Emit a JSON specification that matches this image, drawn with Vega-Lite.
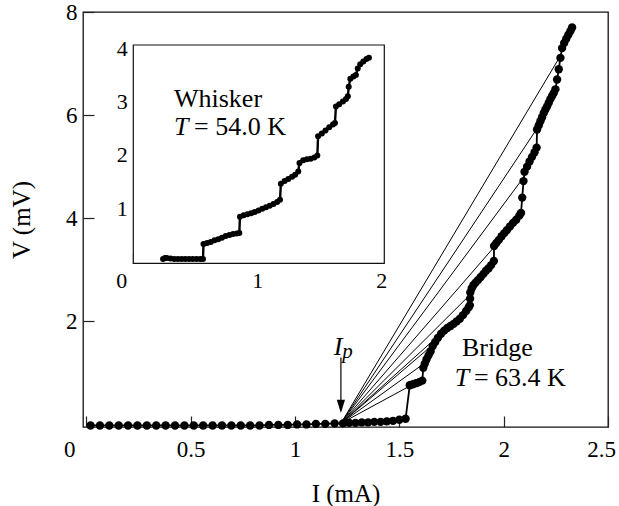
{
  "$schema": "https://vega.github.io/schema/vega-lite/v6.json",
  "width": 525,
  "height": 415,
  "autosize": {"type": "none"},
  "padding": {"left": 83, "top": 12, "right": 11, "bottom": 79},
  "background": "white",
  "config": {
    "font": "Liberation Serif",
    "view": {"stroke": "#111", "strokeWidth": 1.3},
    "axis": {
      "labelFont": "Liberation Serif",
      "titleFont": "Liberation Serif",
      "labelColor": "#000",
      "titleColor": "#000",
      "tickColor": "#222",
      "tickWidth": 1.2,
      "grid": false,
      "domain": false,
      "titleFontWeight": "normal",
      "labelOverlap": false,
      "labelFlush": false,
      "labelBound": false
    }
  },
  "datasets": {
    "bridge": [
      {"I": 0.02, "V": -0.02}, {"I": 0.065, "V": -0.02}, {"I": 0.11, "V": -0.02}, {"I": 0.155, "V": -0.02},
      {"I": 0.2, "V": -0.02}, {"I": 0.245, "V": -0.02}, {"I": 0.29, "V": -0.02}, {"I": 0.335, "V": -0.02},
      {"I": 0.38, "V": -0.02}, {"I": 0.425, "V": -0.02}, {"I": 0.47, "V": -0.02}, {"I": 0.515, "V": -0.02},
      {"I": 0.56, "V": -0.02}, {"I": 0.605, "V": -0.02}, {"I": 0.65, "V": -0.02}, {"I": 0.695, "V": -0.02},
      {"I": 0.74, "V": -0.02}, {"I": 0.785, "V": -0.02}, {"I": 0.83, "V": -0.02}, {"I": 0.875, "V": -0.01},
      {"I": 0.92, "V": -0.01}, {"I": 0.965, "V": -0.01}, {"I": 1.01, "V": 0.0}, {"I": 1.055, "V": 0.0},
      {"I": 1.1, "V": 0.01}, {"I": 1.145, "V": 0.01}, {"I": 1.19, "V": 0.02},
      {"I": 1.23, "V": 0.02}, {"I": 1.26, "V": 0.03}, {"I": 1.29, "V": 0.03}, {"I": 1.32, "V": 0.04},
      {"I": 1.35, "V": 0.04}, {"I": 1.38, "V": 0.05}, {"I": 1.41, "V": 0.05}, {"I": 1.44, "V": 0.06},
      {"I": 1.47, "V": 0.07}, {"I": 1.5, "V": 0.09}, {"I": 1.53, "V": 0.11},
      {"I": 1.55, "V": 0.76}, {"I": 1.565, "V": 0.78}, {"I": 1.58, "V": 0.8}, {"I": 1.595, "V": 0.82}, {"I": 1.61, "V": 0.85},
      {"I": 1.615, "V": 1.1}, {"I": 1.622, "V": 1.18}, {"I": 1.63, "V": 1.26}, {"I": 1.64, "V": 1.34}, {"I": 1.65, "V": 1.42}, {"I": 1.66, "V": 1.52},
      {"I": 1.672, "V": 1.6}, {"I": 1.685, "V": 1.68}, {"I": 1.7, "V": 1.76}, {"I": 1.715, "V": 1.82}, {"I": 1.73, "V": 1.87},
      {"I": 1.745, "V": 1.91}, {"I": 1.76, "V": 1.95}, {"I": 1.775, "V": 2.0}, {"I": 1.79, "V": 2.05}, {"I": 1.805, "V": 2.12},
      {"I": 1.82, "V": 2.2}, {"I": 1.832, "V": 2.27}, {"I": 1.838, "V": 2.31},
      {"I": 1.839, "V": 2.44}, {"I": 1.84, "V": 2.56}, {"I": 1.847, "V": 2.64}, {"I": 1.855, "V": 2.7}, {"I": 1.865, "V": 2.75},
      {"I": 1.877, "V": 2.8}, {"I": 1.89, "V": 2.86}, {"I": 1.903, "V": 2.92}, {"I": 1.915, "V": 2.98}, {"I": 1.928, "V": 3.03},
      {"I": 1.94, "V": 3.09}, {"I": 1.953, "V": 3.17},
      {"I": 1.954, "V": 3.46}, {"I": 1.965, "V": 3.52}, {"I": 1.977, "V": 3.58}, {"I": 1.99, "V": 3.65}, {"I": 2.003, "V": 3.71},
      {"I": 2.016, "V": 3.77}, {"I": 2.03, "V": 3.84}, {"I": 2.045, "V": 3.91}, {"I": 2.06, "V": 3.97}, {"I": 2.075, "V": 4.05}, {"I": 2.083, "V": 4.1},
      {"I": 2.089, "V": 4.4}, {"I": 2.095, "V": 4.72}, {"I": 2.1, "V": 4.9}, {"I": 2.112, "V": 5.0}, {"I": 2.124, "V": 5.1},
      {"I": 2.136, "V": 5.19}, {"I": 2.148, "V": 5.28}, {"I": 2.158, "V": 5.37},
      {"I": 2.16, "V": 5.72}, {"I": 2.168, "V": 5.8}, {"I": 2.176, "V": 5.88}, {"I": 2.184, "V": 5.96}, {"I": 2.192, "V": 6.04},
      {"I": 2.2, "V": 6.11}, {"I": 2.208, "V": 6.17}, {"I": 2.216, "V": 6.24}, {"I": 2.224, "V": 6.31}, {"I": 2.232, "V": 6.37},
      {"I": 2.24, "V": 6.43}, {"I": 2.248, "V": 6.5},
      {"I": 2.256, "V": 6.69}, {"I": 2.264, "V": 6.89}, {"I": 2.272, "V": 7.11}, {"I": 2.28, "V": 7.3}, {"I": 2.29, "V": 7.4},
      {"I": 2.3, "V": 7.48}, {"I": 2.31, "V": 7.56}, {"I": 2.32, "V": 7.63}, {"I": 2.328, "V": 7.7}
    ],
    "fan": [
      {"ray": 1, "I": 1.22, "V": 0.02}, {"ray": 1, "I": 2.272, "V": 7.15},
      {"ray": 2, "I": 1.22, "V": 0.02}, {"ray": 2, "I": 2.16, "V": 5.74},
      {"ray": 3, "I": 1.22, "V": 0.02}, {"ray": 3, "I": 2.097, "V": 4.8},
      {"ray": 4, "I": 1.22, "V": 0.02}, {"ray": 4, "I": 1.954, "V": 3.44},
      {"ray": 5, "I": 1.22, "V": 0.02}, {"ray": 5, "I": 1.84, "V": 2.52},
      {"ray": 6, "I": 1.22, "V": 0.02}, {"ray": 6, "I": 1.82, "V": 2.2},
      {"ray": 7, "I": 1.22, "V": 0.02}, {"ray": 7, "I": 1.665, "V": 1.56},
      {"ray": 8, "I": 1.22, "V": 0.02}, {"ray": 8, "I": 1.625, "V": 1.2},
      {"ray": 9, "I": 1.22, "V": 0.02}, {"ray": 9, "I": 1.575, "V": 0.8}
    ],
    "whisker": [
      {"I": 0.24, "V": 0.05}, {"I": 0.255, "V": 0.07}, {"I": 0.27, "V": 0.07}, {"I": 0.3, "V": 0.06}, {"I": 0.33, "V": 0.05},
      {"I": 0.36, "V": 0.05}, {"I": 0.39, "V": 0.05}, {"I": 0.42, "V": 0.05}, {"I": 0.45, "V": 0.05}, {"I": 0.48, "V": 0.05},
      {"I": 0.51, "V": 0.05}, {"I": 0.54, "V": 0.05}, {"I": 0.562, "V": 0.05},
      {"I": 0.566, "V": 0.33}, {"I": 0.595, "V": 0.35}, {"I": 0.625, "V": 0.37}, {"I": 0.655, "V": 0.4}, {"I": 0.685, "V": 0.42},
      {"I": 0.715, "V": 0.45}, {"I": 0.745, "V": 0.48}, {"I": 0.775, "V": 0.5}, {"I": 0.805, "V": 0.52}, {"I": 0.835, "V": 0.53}, {"I": 0.855, "V": 0.54},
      {"I": 0.86, "V": 0.84}, {"I": 0.89, "V": 0.87}, {"I": 0.92, "V": 0.89}, {"I": 0.95, "V": 0.91}, {"I": 0.98, "V": 0.93},
      {"I": 1.01, "V": 0.96}, {"I": 1.04, "V": 0.99}, {"I": 1.07, "V": 1.02}, {"I": 1.1, "V": 1.05}, {"I": 1.13, "V": 1.08},
      {"I": 1.16, "V": 1.12}, {"I": 1.183, "V": 1.16},
      {"I": 1.19, "V": 1.46}, {"I": 1.22, "V": 1.51}, {"I": 1.25, "V": 1.55}, {"I": 1.28, "V": 1.59}, {"I": 1.305, "V": 1.63}, {"I": 1.33, "V": 1.69},
      {"I": 1.34, "V": 1.85}, {"I": 1.37, "V": 1.9}, {"I": 1.4, "V": 1.92}, {"I": 1.43, "V": 1.93}, {"I": 1.46, "V": 1.95}, {"I": 1.484, "V": 1.99},
      {"I": 1.49, "V": 2.35}, {"I": 1.52, "V": 2.4}, {"I": 1.55, "V": 2.46}, {"I": 1.58, "V": 2.52}, {"I": 1.61, "V": 2.57}, {"I": 1.626, "V": 2.6},
      {"I": 1.634, "V": 2.91}, {"I": 1.66, "V": 2.95}, {"I": 1.69, "V": 3.0}, {"I": 1.715, "V": 3.05}, {"I": 1.73, "V": 3.1},
      {"I": 1.737, "V": 3.28}, {"I": 1.75, "V": 3.43}, {"I": 1.775, "V": 3.47}, {"I": 1.795, "V": 3.5}, {"I": 1.81, "V": 3.62},
      {"I": 1.83, "V": 3.7}, {"I": 1.855, "V": 3.75}, {"I": 1.88, "V": 3.8}, {"I": 1.9, "V": 3.82}
    ]
  },
  "layer": [
    {
      "layer": [
        {
          "data": {"name": "fan"},
          "mark": {"type": "line", "color": "#000", "strokeWidth": 1},
          "encoding": {
            "x": {
              "field": "I", "type": "quantitative",
              "scale": {"domain": [-0.016, 2.5], "nice": false, "zero": false},
              "axis": {
                "orient": "bottom",
                "values": [0, 0.5, 1, 1.5, 2, 2.5],
                "format": "~g",
                "tickSize": -11,
                "labelPadding": 22,
                "labelFontSize": 23,
                "labelOffset": {"expr": "datum.value === 0 ? -17 : (datum.value === 2.5 ? -7 : 0)"},
                "title": "I  (mA)",
                "titleFontSize": 25,
                "titlePadding": 20
              }
            },
            "y": {
              "field": "V", "type": "quantitative",
              "scale": {"domain": [-0.05, 8], "nice": false, "zero": false},
              "axis": {
                "orient": "left",
                "values": [2, 4, 6, 8],
                "format": "~g",
                "tickSize": -11,
                "labelPadding": 17,
                "labelFontSize": 23,
                "title": "V  (mV)",
                "titleFontSize": 25,
                "titlePadding": 31
              }
            },
            "detail": {"field": "ray"}
          }
        },
        {
          "data": {"name": "bridge"},
          "mark": {"type": "line", "color": "#000", "strokeWidth": 1.8,
                   "point": {"filled": true, "size": 70, "color": "#000", "opacity": 1}},
          "encoding": {
            "x": {"field": "I", "type": "quantitative"},
            "y": {"field": "V", "type": "quantitative"}
          }
        },
        {
          "data": {"values": [{"I": 1.22, "V": 1.3}, {"I": 1.22, "V": 0.42}]},
          "mark": {"type": "line", "color": "#000", "strokeWidth": 1.2},
          "encoding": {
            "x": {"field": "I", "type": "quantitative"},
            "y": {"field": "V", "type": "quantitative"}
          }
        },
        {
          "data": {"values": [{"I": 1.22, "V": 0.35}]},
          "mark": {"type": "point", "shape": "M-0.62,-1L0.62,-1L0,1Z", "size": 177, "filled": true, "color": "#000", "opacity": 1},
          "encoding": {
            "x": {"field": "I", "type": "quantitative"},
            "y": {"field": "V", "type": "quantitative"}
          }
        },
        {
          "data": {"values": [{"I": 1.206, "V": 1.355, "t": "I"}, {"I": 1.8, "V": 0.75, "t": "T"}]},
          "mark": {"type": "text", "font": "Liberation Serif", "fontSize": 26, "fontStyle": "italic", "align": "center", "baseline": "alphabetic", "color": "#000"},
          "encoding": {
            "x": {"field": "I", "type": "quantitative"},
            "y": {"field": "V", "type": "quantitative"},
            "text": {"field": "t"}
          }
        },
        {
          "data": {"values": [{"I": 1.226, "V": 1.29, "t": "p"}]},
          "mark": {"type": "text", "font": "Liberation Serif", "fontSize": 21, "fontStyle": "italic", "align": "left", "baseline": "alphabetic", "color": "#000"},
          "encoding": {
            "x": {"field": "I", "type": "quantitative"},
            "y": {"field": "V", "type": "quantitative"},
            "text": {"field": "t"}
          }
        },
        {
          "data": {"values": [{"I": 1.8, "V": 1.335, "t": "Bridge"}]},
          "mark": {"type": "text", "font": "Liberation Serif", "fontSize": 26, "align": "left", "baseline": "alphabetic", "color": "#000"},
          "encoding": {
            "x": {"field": "I", "type": "quantitative"},
            "y": {"field": "V", "type": "quantitative"},
            "text": {"field": "t"}
          }
        },
        {
          "data": {"values": [{"I": 1.8, "V": 0.75, "t": "= 63.4 K"}]},
          "mark": {"type": "text", "font": "Liberation Serif", "fontSize": 26, "align": "left", "baseline": "alphabetic", "dx": 12, "color": "#000"},
          "encoding": {
            "x": {"field": "I", "type": "quantitative"},
            "y": {"field": "V", "type": "quantitative"},
            "text": {"field": "t"}
          }
        }
      ]
    },
    {
      "layer": [
        {
          "data": {"values": [{}]},
          "mark": {"type": "rect", "fill": "white", "stroke": "#111", "strokeWidth": 1.2},
          "encoding": {
            "x": {
              "datum": 0, "type": "quantitative",
              "scale": {"domain": [0, 2.024], "range": [50.3, 301.3], "nice": false, "zero": false},
              "axis": {
                "orient": "bottom",
                "offset": -163.7,
                "values": [0, 1, 2],
                "format": "~g",
                "tickSize": -11,
                "labelPadding": 18,
                "labelFontSize": 22,
                "labelOffset": {"expr": "datum.value === 0 ? -12 : 0"},
                "title": null
              }
            },
            "x2": {"datum": 2.024},
            "y": {
              "datum": -0.03, "type": "quantitative",
              "scale": {"domain": [-0.03, 4.06], "range": [251.3, 33], "nice": false, "zero": false},
              "axis": {
                "orient": "left",
                "offset": -50.3,
                "values": [1, 2, 3, 4],
                "format": "~g",
                "tickSize": -11,
                "labelPadding": 17,
                "labelFontSize": 22,
                "title": null
              }
            },
            "y2": {"datum": 4.06}
          }
        },
        {
          "data": {"name": "whisker"},
          "mark": {"type": "line", "color": "#000", "strokeWidth": 2.4,
                   "point": {"filled": true, "size": 36, "color": "#000", "opacity": 1}},
          "encoding": {
            "x": {"field": "I", "type": "quantitative"},
            "y": {"field": "V", "type": "quantitative"}
          }
        },
        {
          "data": {"values": [{"I": 0.328, "V": 2.9, "t": "Whisker"}]},
          "mark": {"type": "text", "font": "Liberation Serif", "fontSize": 26, "align": "left", "baseline": "alphabetic", "color": "#000"},
          "encoding": {
            "x": {"field": "I", "type": "quantitative"},
            "y": {"field": "V", "type": "quantitative"},
            "text": {"field": "t"}
          }
        },
        {
          "data": {"values": [{"I": 0.328, "V": 2.38, "t": "T"}]},
          "mark": {"type": "text", "font": "Liberation Serif", "fontSize": 26, "fontStyle": "italic", "align": "left", "baseline": "alphabetic", "color": "#000"},
          "encoding": {
            "x": {"field": "I", "type": "quantitative"},
            "y": {"field": "V", "type": "quantitative"},
            "text": {"field": "t"}
          }
        },
        {
          "data": {"values": [{"I": 0.328, "V": 2.38, "t": "= 54.0 K"}]},
          "mark": {"type": "text", "font": "Liberation Serif", "fontSize": 26, "align": "left", "baseline": "alphabetic", "dx": 20, "color": "#000"},
          "encoding": {
            "x": {"field": "I", "type": "quantitative"},
            "y": {"field": "V", "type": "quantitative"},
            "text": {"field": "t"}
          }
        }
      ]
    }
  ],
  "resolve": {"scale": {"x": "independent", "y": "independent"}}
}
